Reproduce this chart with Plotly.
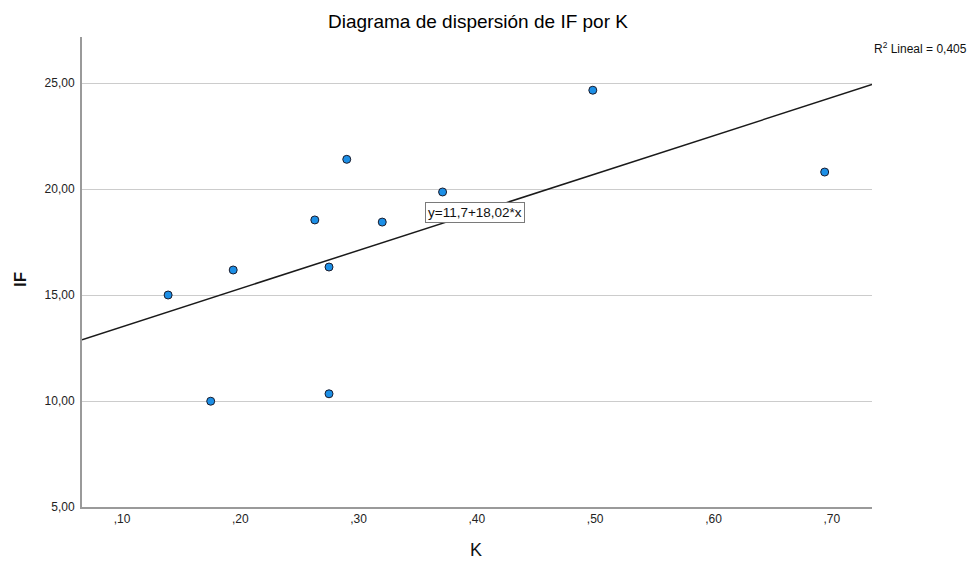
import plotly.graph_objects as go

# ---- data ----
k_values = [0.139, 0.194, 0.263, 0.275, 0.290, 0.320, 0.371, 0.498, 0.694, 0.175, 0.275]
if_values = [15.00, 16.18, 18.54, 16.32, 21.40, 18.44, 19.86, 24.66, 20.80, 9.99, 10.34]

fit_intercept = 11.7
fit_slope = 18.02
r2_text = "R<sup>2</sup> Lineal = 0,405"
fit_label = "y=11,7+18,02*x"

x_tickvals = [0.1, 0.2, 0.3, 0.4, 0.5, 0.6, 0.7]
x_ticktext = [",10", ",20", ",30", ",40", ",50", ",60", ",70"]
y_tickvals = [5, 10, 15, 20, 25]
y_ticktext = ["5,00", "10,00", "15,00", "20,00", "25,00"]

x_range = [0.0662, 0.734]
y_range = [5, 27.17]

FONT = "Liberation Sans, Arial, sans-serif"

fig = go.Figure()

# regression line across the visible x range
line_x = x_range
line_y = [fit_intercept + fit_slope * v for v in line_x]
fig.add_trace(go.Scatter(
    x=line_x, y=line_y, mode="lines",
    line=dict(color="#1a1a1a", width=1.5),
    hoverinfo="skip", showlegend=False, cliponaxis=True,
))

fig.add_trace(go.Scatter(
    x=k_values, y=if_values, mode="markers",
    marker=dict(size=8, color="#1c8fe6", line=dict(color="#1b1b2b", width=1)),
    showlegend=False, cliponaxis=False,
))

label_x = 0.3985
fig.add_annotation(
    x=label_x, y=fit_intercept + fit_slope * label_x, xref="x", yref="y",
    text=fit_label, showarrow=False,
    font=dict(family=FONT, size=13.5, color="#111111"),
    bgcolor="white", bordercolor="#7a7a7a", borderwidth=1, borderpad=2,
)

fig.add_annotation(
    x=1.0, y=(507 - 48) / 470, xref="paper", yref="paper",
    xanchor="left", yanchor="middle", text=r2_text, showarrow=False,
    font=dict(family=FONT, size=12, color="#111111"),
)

# axis titles
fig.add_annotation(
    x=(476 - 82) / 790, y=-(550 - 507) / 470, xref="paper", yref="paper",
    xanchor="center", yanchor="middle", text="K", showarrow=False,
    font=dict(family=FONT, size=18, color="#111111"),
)
fig.add_annotation(
    x=-(82 - 20) / 790, y=(507 - 280) / 470, xref="paper", yref="paper",
    xanchor="center", yanchor="middle", text="<b>IF</b>", showarrow=False, textangle=-90,
    font=dict(family=FONT, size=17, color="#111111"),
)

fig.update_layout(
    width=969, height=562,
    margin=dict(l=82, r=97, t=37, b=55),
    paper_bgcolor="white", plot_bgcolor="white",
    title=dict(
        text="Diagrama de dispersión de IF por K",
        x=478 / 969, y=1 - 21.5 / 562, xanchor="center", yanchor="middle",
        font=dict(family=FONT, size=19, color="#000000"),
    ),
    font=dict(family=FONT, size=12, color="#222222"),
)

fig.update_xaxes(
    range=x_range, tickvals=x_tickvals, ticktext=x_ticktext,
    showgrid=False, zeroline=False, showline=True,
    linecolor="#9a9a9a", linewidth=2, ticks="",
    tickfont=dict(family=FONT, size=12, color="#222222"),
)
fig.update_yaxes(
    range=y_range, tickvals=y_tickvals, ticktext=y_ticktext,
    showgrid=True, gridcolor="#cccccc", gridwidth=1.3,
    zeroline=False, showline=True, linecolor="#9a9a9a", linewidth=2,
    ticks="outside", ticklen=3, tickcolor="rgba(0,0,0,0)",
    tickfont=dict(family=FONT, size=12, color="#222222"),
)

fig.write_html("out.html")
